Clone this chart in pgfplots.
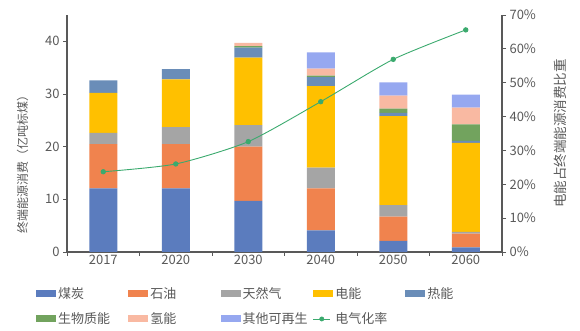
\documentclass[border=0pt]{standalone}
\usepackage{pgfplots}
\pgfplotsset{compat=1.18}
\usepackage{fontspec}
\setmainfont{Noto Sans CJK SC}
\definecolor{coal}{HTML}{5B7CBE}
\definecolor{oil}{HTML}{F0834E}
\definecolor{gas}{HTML}{A5A5A5}
\definecolor{elec}{HTML}{FFC000}
\definecolor{heat}{HTML}{6A8DB8}
\definecolor{bio}{HTML}{72A35E}
\definecolor{hyd}{HTML}{F9B9A2}
\definecolor{other}{HTML}{96A8F0}
\definecolor{lineg}{HTML}{3BAA6E}
\definecolor{axgray}{HTML}{595959}
\newcommand{\lt}[1]{\makebox[64.2pt][l]{#1}}
\begin{document}
\begin{tikzpicture}[x=1pt,y=1pt]
\path[use as bounding box] (0,0) rectangle (580,331);
\begin{axis}[
  at={(67pt,79pt)}, anchor=south west, scale only axis,
  width=435pt, height=237pt,
  ybar stacked, bar width=28pt,
  xmin=-0.5, xmax=5.5, ymin=0, ymax=45,
  axis y line*=left, axis x line*=bottom,
  axis line style={-, draw=axgray, line width=1.1pt},
  xtick={-0.5,0.5,...,5.5}, xticklabels={},
  extra x ticks={0,1,2,3,4,5},
  extra x tick labels={2017,2020,2030,2040,2050,2060},
  extra x tick style={major tick length=0pt},
  ytick={0,10,20,30,40},
  tick align=outside, major tick length=4pt,
  tick style={draw=axgray, line width=0.8pt},
  ticklabel style={font=\fontsize{13}{15}\selectfont, text=axgray},
  /pgf/number format/assume math mode=true,
  ylabel={终端能源消费（亿吨标煤）},
  ylabel shift=10pt,
  ylabel style={font=\fontsize{12}{14}\selectfont, text=axgray, at={(ticklabel cs:0.38)}},
  legend image code/.code={\fill[#1] (0pt,-3.5pt) rectangle (20pt,3.5pt);},
  legend columns=5,
  legend style={draw=none, fill=none, at={(rel axis cs:0,0)}, anchor=north west,
    xshift=-31pt, yshift=-33pt, inner sep=0pt, row sep=9pt,
    font=\fontsize{13}{15}\selectfont, text=axgray,
    /tikz/every even column/.append style={column sep=4pt},
    /tikz/every odd column/.append style={column sep=0pt}},
  legend cell align=left,
]
\addplot[fill=coal, draw=none] coordinates {(0,12.1) (1,12.1) (2,9.7) (3,4.1) (4,2.1) (5,0.9)};
\addlegendentry{\lt{煤炭}}
\addplot[fill=oil, draw=none] coordinates {(0,8.4) (1,8.4) (2,10.3) (3,8.0) (4,4.6) (5,2.6)};
\addlegendentry{\lt{石油}}
\addplot[fill=gas, draw=none] coordinates {(0,2.1) (1,3.2) (2,4.1) (3,3.9) (4,2.2) (5,0.3)};
\addlegendentry{\lt{天然气}}
\addplot[fill=elec, draw=none] coordinates {(0,7.6) (1,9.1) (2,12.8) (3,15.5) (4,16.9) (5,16.9)};
\addlegendentry{\lt{电能}}
\addplot[fill=heat, draw=none] coordinates {(0,2.4) (1,1.9) (2,1.9) (3,1.7) (4,0.6) (5,0.4)};
\addlegendentry{\lt{热能}}
\addplot[fill=bio, draw=none] coordinates {(0,0) (1,0) (2,0.3) (3,0.3) (4,0.8) (5,3.15)};
\addlegendentry{\lt{生物质能}}
\addplot[fill=hyd, draw=none] coordinates {(0,0) (1,0) (2,0.6) (3,1.3) (4,2.5) (5,3.15)};
\addlegendentry{\lt{氢能}}
\addplot[fill=other, draw=none] coordinates {(0,0) (1,0) (2,0) (3,3.1) (4,2.5) (5,2.5)};
\addlegendentry{\lt{其他可再生}}
\addlegendimage{legend image code/.code={\draw[lineg, line width=0.9pt] (0pt,0pt) -- (17pt,0pt); \fill[lineg] (8.5pt,0pt) circle (2.2pt);}}
\addlegendentry{\lt{电气化率}}
\end{axis}
\begin{axis}[
  at={(67pt,79pt)}, anchor=south west, scale only axis,
  width=435pt, height=237pt,
  xmin=-0.5, xmax=5.5, ymin=0, ymax=70,
  axis y line*=right, axis x line=none,
  axis line style={-, draw=axgray, line width=1.1pt},
  ytick={0,10,...,70},
  yticklabel={\pgfmathprintnumber{\tick}\%},
  tick align=outside, major tick length=4pt,
  tick style={draw=axgray, line width=0.8pt},
  ticklabel style={font=\fontsize{13}{15}\selectfont, text=axgray},
  /pgf/number format/assume math mode=true,
  ylabel={电能占终端能源消费比重},
  ylabel shift=11pt,
  ylabel style={font=\fontsize{13.5}{15}\selectfont, text=axgray},
]
\addplot[color=lineg, line width=0.9pt, mark=*, mark size=2.2pt, smooth, tension=0.4]
  coordinates {(0,23.7) (1,26.0) (2,32.6) (3,44.4) (4,56.9) (5,65.6)};
\end{axis}
\end{tikzpicture}
\end{document}
